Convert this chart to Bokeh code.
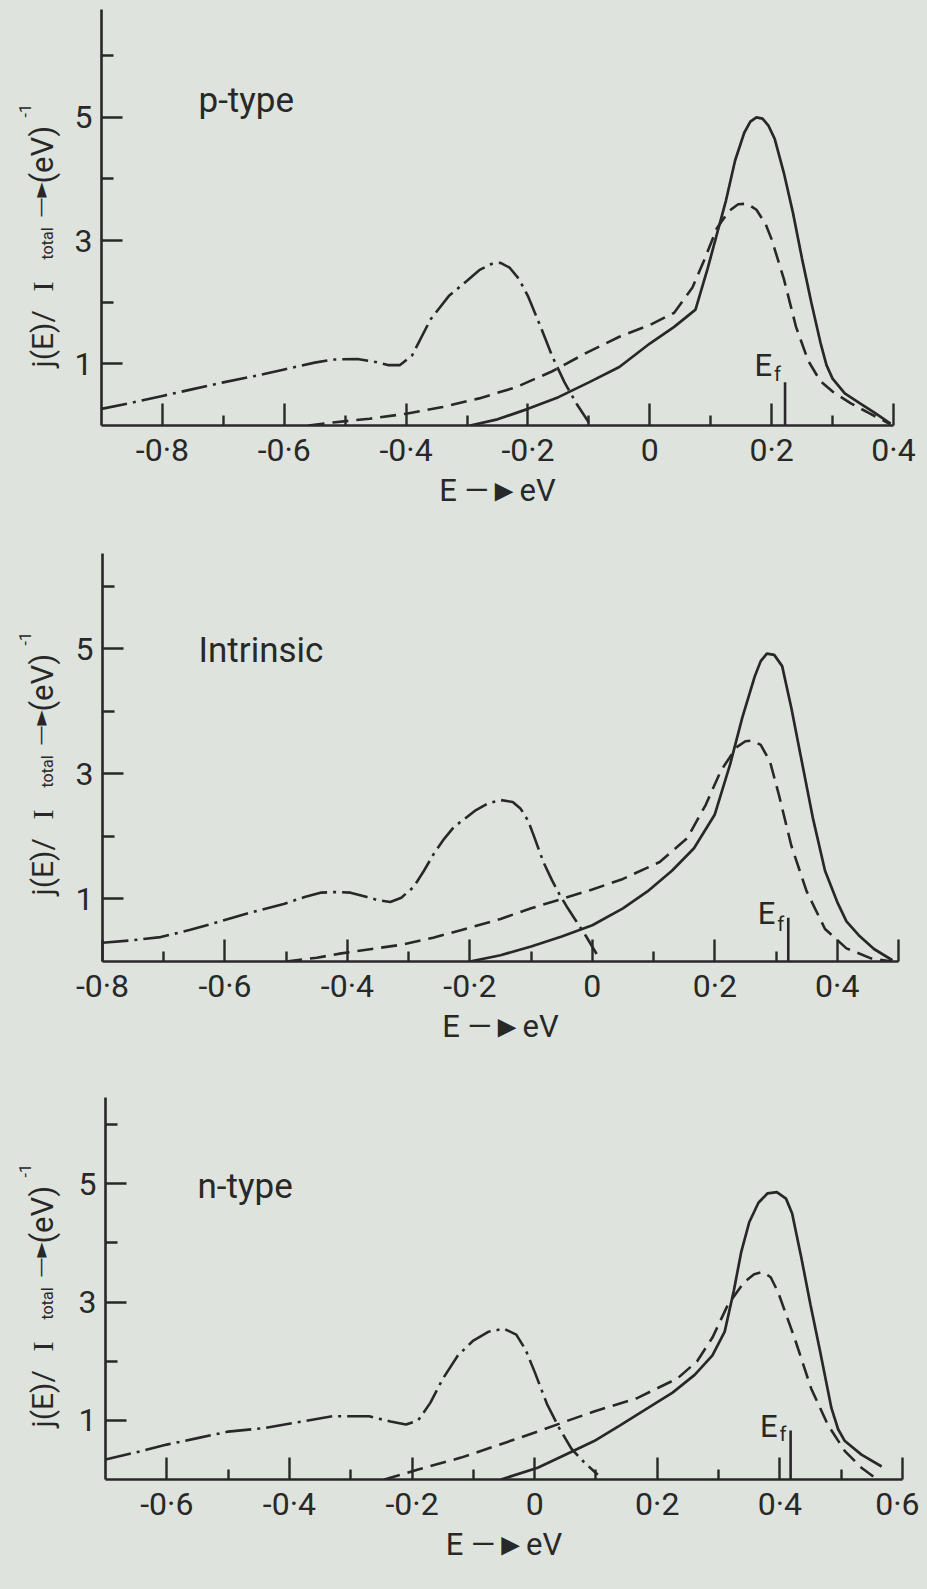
import re
from bokeh.plotting import figure
from bokeh.models import Range1d, FixedTicker, Label
from bokeh.layouts import column, row
from bokeh.embed import file_html
from bokeh.resources import INLINE

BG = "#dee4dd"
INK = "#282828"
FONT = "Roboto"

# ---------------- data: p-type ----------------
P_NAME = "p-type"
P_SOLID_E = [-0.295, -0.25, -0.2, -0.15, -0.10, -0.05, 0.0, 0.04, 0.075, 0.095, 0.11, 0.125, 0.14,
             0.155, 0.165, 0.175, 0.185, 0.195, 0.205, 0.22, 0.235, 0.25, 0.265, 0.28, 0.29,
             0.30, 0.32, 0.345, 0.37, 0.395]
P_SOLID_J = [0.0, 0.1, 0.27, 0.46, 0.7, 0.95, 1.33, 1.6, 1.88, 2.55, 3.1, 3.65, 4.3,
             4.75, 4.93, 5.0, 4.98, 4.86, 4.65, 4.1, 3.45, 2.7, 2.0, 1.35, 0.98,
             0.76, 0.52, 0.36, 0.2, 0.03]
P_DASH_E = [-0.56, -0.52, -0.46, -0.40, -0.34, -0.28, -0.22, -0.16, -0.10, -0.05, 0.0, 0.04,
            0.07, 0.09, 0.11, 0.13, 0.145, 0.16, 0.175, 0.19, 0.20, 0.22, 0.24, 0.26, 0.28,
            0.30, 0.33, 0.36, 0.395]
P_DASH_J = [0.0, 0.05, 0.11, 0.19, 0.30, 0.44, 0.62, 0.88, 1.20, 1.44, 1.63, 1.83,
            2.24, 2.7, 3.2, 3.48, 3.59, 3.6, 3.5, 3.27, 3.02, 2.38, 1.6, 1.05, 0.72,
            0.55, 0.36, 0.2, 0.02]
P_DOT_E = [-0.9, -0.85, -0.8, -0.75, -0.7, -0.65, -0.6, -0.55, -0.52, -0.48, -0.45, -0.43,
           -0.41, -0.39, -0.36, -0.33, -0.30, -0.28, -0.26, -0.245, -0.23, -0.215, -0.2,
           -0.18, -0.16, -0.14, -0.12, -0.10]
P_DOT_J = [0.27, 0.37, 0.48, 0.59, 0.70, 0.80, 0.91, 1.02, 1.07, 1.08, 1.03, 0.98,
           0.98, 1.14, 1.72, 2.1, 2.35, 2.52, 2.62, 2.64, 2.56, 2.38, 2.1,
           1.62, 1.12, 0.7, 0.35, 0.05]
P_XTICKS = [-0.8, -0.6, -0.4, -0.2, 0.0, 0.2, 0.4]
P_XLABELS = ["-0·8", "-0·6", "-0·4", "-0·2", "0", "0·2", "0·4"]
P_XMINOR = [-0.7, -0.5, -0.3, -0.1, 0.1, 0.3]
P_EF = 0.222

# ---------------- data: intrinsic ----------------
I_NAME = "Intrinsic"
I_SOLID_E = [-0.2, -0.15, -0.1, -0.05, 0.0, 0.05, 0.09, 0.13, 0.166, 0.2, 0.225, 0.245, 0.265,
             0.275, 0.285, 0.297, 0.31, 0.325, 0.34, 0.36, 0.38, 0.40, 0.415, 0.435, 0.46, 0.49]
I_SOLID_J = [0.0, 0.1, 0.24, 0.4, 0.58, 0.85, 1.12, 1.45, 1.81, 2.35, 3.15, 3.9, 4.55,
             4.8, 4.92, 4.9, 4.72, 4.05, 3.3, 2.3, 1.45, 0.95, 0.64, 0.42, 0.2, 0.02]
I_DASH_E = [-0.50, -0.45, -0.41, -0.36, -0.31, -0.26, -0.215, -0.15, -0.10, -0.05, 0.0, 0.05,
            0.11, 0.155, 0.185, 0.21, 0.235, 0.25, 0.262, 0.275, 0.29, 0.305, 0.325, 0.35,
            0.38, 0.415, 0.455, 0.49]
I_DASH_J = [0.0, 0.06, 0.13, 0.2, 0.27, 0.38, 0.5, 0.68, 0.85, 1.0, 1.15, 1.32,
            1.59, 1.97, 2.5, 3.05, 3.42, 3.52, 3.53, 3.46, 3.2, 2.65, 1.85, 1.12,
            0.52, 0.21, 0.05, 0.0]
I_DOT_E = [-0.8, -0.75, -0.705, -0.655, -0.605, -0.555, -0.504, -0.47, -0.444, -0.42, -0.395,
           -0.368, -0.35, -0.33, -0.312, -0.292, -0.275, -0.259, -0.242, -0.226, -0.21, -0.19,
           -0.17, -0.15, -0.13, -0.117, -0.105, -0.096, -0.08, -0.066, -0.053, -0.04, -0.026,
           -0.01, 0.007]
I_DOT_J = [0.3, 0.34, 0.39, 0.51, 0.65, 0.79, 0.92, 1.03, 1.1, 1.11, 1.1,
           1.03, 0.98, 0.95, 1.02, 1.19, 1.45, 1.72, 1.96, 2.15, 2.27, 2.42,
           2.53, 2.58, 2.55, 2.44, 2.25, 2.02, 1.59, 1.3, 1.06, 0.85, 0.64,
           0.4, 0.12]
I_XTICKS = [-0.8, -0.6, -0.4, -0.2, 0.0, 0.2, 0.4, 0.5]
I_XLABELS = ["-0·8", "-0·6", "-0·4", "-0·2", "0", "0·2", "0·4", ""]
I_XMINOR = [-0.7, -0.5, -0.3, -0.1, 0.1, 0.3]
I_EF = 0.320

# ---------------- data: n-type ----------------
N_NAME = "n-type"
N_SOLID_E = [-0.055, 0.005, 0.05, 0.097, 0.14, 0.185, 0.225, 0.261, 0.29, 0.31, 0.325, 0.337,
             0.35, 0.365, 0.38, 0.395, 0.41, 0.42, 0.435, 0.45, 0.465, 0.484, 0.495, 0.506,
             0.533, 0.566]
N_SOLID_J = [0.0, 0.2, 0.42, 0.65, 0.92, 1.21, 1.47, 1.77, 2.1, 2.5, 3.2, 3.85,
             4.35, 4.68, 4.84, 4.86, 4.75, 4.5, 3.75, 2.95, 2.2, 1.21, 0.85, 0.65,
             0.42, 0.22]
N_DASH_E = [-0.245, -0.19, -0.12, -0.06, 0.005, 0.05, 0.097, 0.168, 0.233, 0.265, 0.29, 0.315,
            0.342, 0.358, 0.372, 0.385, 0.397, 0.424, 0.451, 0.478, 0.506, 0.533, 0.555]
N_DASH_J = [0.0, 0.17, 0.37, 0.58, 0.81, 0.98, 1.15, 1.38, 1.71, 2.0, 2.4, 2.95,
            3.34, 3.47, 3.51, 3.42, 3.17, 2.39, 1.54, 0.93, 0.48, 0.2, 0.03]
N_DOT_E = [-0.7, -0.65, -0.6, -0.55, -0.5, -0.44, -0.38, -0.33, -0.27, -0.235, -0.21, -0.19,
           -0.17, -0.15, -0.125, -0.10, -0.075, -0.05, -0.03, -0.015, 0.0, 0.02, 0.04, 0.06,
           0.08, 0.103]
N_DOT_J = [0.34, 0.46, 0.59, 0.7, 0.81, 0.87, 0.98, 1.07, 1.07, 0.98, 0.93, 1.0,
           1.3, 1.7, 2.1, 2.35, 2.5, 2.55, 2.45, 2.2, 1.82, 1.28, 0.87, 0.52,
           0.3, 0.08]
N_XTICKS = [-0.6, -0.4, -0.2, 0.0, 0.2, 0.4, 0.6]
N_XLABELS = ["-0·6", "-0·4", "-0·2", "0", "0·2", "0·4", "0·6"]
N_XMINOR = [-0.5, -0.3, -0.1, 0.1, 0.3, 0.5]
N_EF = 0.4175

Y_TICKS = [1, 3, 5]
Y_MINOR = [2, 4, 6]
X_TITLE = "E —►eV"

TITLE_W = 64
MAIN_W = 919 - TITLE_W

# layout settings per panel (pixel sizes, not data)
LAYOUT = [
    dict(x=(-0.9, 0.4), ytop=6.75, h=525, l=37, r=26, t=9, b=100,
         ys=58, name_xy=(97, 305), ef=(0.98, 0.84, 0.70)),
    dict(x=(-0.8, 0.5), ytop=6.52, h=536, l=38, r=21, t=28, b=100,
         ys=66, name_xy=(96, 291), ef=(0.76, 0.60, 0.70)),
    dict(x=(-0.7, 0.6), ytop=6.46, h=518, l=41, r=17, t=36, b=100,
         ys=52, name_xy=(92, 273), ef=(0.89, 0.77, 0.83)),
]

PANELS = [
    (P_NAME, P_SOLID_E, P_SOLID_J, P_DASH_E, P_DASH_J, P_DOT_E, P_DOT_J,
     P_XTICKS, P_XLABELS, P_XMINOR, P_EF),
    (I_NAME, I_SOLID_E, I_SOLID_J, I_DASH_E, I_DASH_J, I_DOT_E, I_DOT_J,
     I_XTICKS, I_XLABELS, I_XMINOR, I_EF),
    (N_NAME, N_SOLID_E, N_SOLID_J, N_DASH_E, N_DASH_J, N_DOT_E, N_DOT_J,
     N_XTICKS, N_XLABELS, N_XMINOR, N_EF),
]

# y title pieces: text, offset along axis, font, size, baseline x (in title strip)
YT_PIECES = [
    ("j(E)/", 0, FONT, "30px", 42),
    ("I", 76, "Liberation Serif", "30px", 42),
    ("total", 108, FONT, "16px", 47),
    ("—►", 150, "DejaVu Sans", "20px", 39),
    ("(eV)", 184, FONT, "31px", 42),
    ("-1", 250, FONT, "16px", 24),
]


def make_title(lay):
    t = figure(width=TITLE_W, height=lay["h"], x_range=Range1d(0, 1), y_range=Range1d(0, 1),
               output_backend="svg", toolbar_location=None,
               x_axis_location=None, y_axis_location=None,
               min_border_left=0, min_border_right=0, min_border_top=lay["t"],
               min_border_bottom=lay["b"],
               background_fill_color=None, border_fill_color=BG, outline_line_color=None)
    t.grid.visible = False
    for txt, off, fnt, fs, bx in YT_PIECES:
        t.add_layout(Label(x=bx, y=lay["ys"] + off, x_units="screen", y_units="screen",
                           text=txt, angle=1.5707963, text_align="left",
                           text_baseline="alphabetic",
                           text_font=fnt, text_font_size=fs, text_color=INK))
    return t


def make_panel(data, lay):
    (name, se, sj, de, dj, te, tj, xt, xl, xm, ef) = data
    p = figure(width=MAIN_W, height=lay["h"],
               x_range=Range1d(*lay["x"]), y_range=Range1d(0, lay["ytop"]),
               output_backend="svg", toolbar_location=None,
               min_border_left=lay["l"], min_border_right=lay["r"],
               min_border_top=lay["t"], min_border_bottom=lay["b"],
               background_fill_color=None, border_fill_color=BG,
               outline_line_color=None)
    p.grid.visible = False

    xa = p.xaxis[0]
    xa.ticker = FixedTicker(ticks=xt, minor_ticks=xm)
    xa.major_label_overrides = dict(zip(xt, xl))
    xa.major_tick_in = 22
    xa.major_tick_out = 0
    xa.minor_tick_in = 10
    xa.minor_tick_out = 0
    xa.major_label_standoff = 5
    xa.axis_label = X_TITLE
    xa.axis_label_standoff = 0
    xa.axis_label_text_font = FONT
    xa.axis_label_text_font_size = "31px"
    xa.axis_label_text_font_style = "normal"
    xa.axis_label_text_color = INK

    ya = p.yaxis[0]
    ya.ticker = FixedTicker(ticks=Y_TICKS, minor_ticks=Y_MINOR)
    ya.major_tick_in = 21
    ya.major_tick_out = 0
    ya.minor_tick_in = 12
    ya.minor_tick_out = 0
    ya.major_label_standoff = 9

    for ax in (xa, ya):
        ax.axis_line_color = INK
        ax.axis_line_width = 2.6
        ax.major_tick_line_color = INK
        ax.major_tick_line_width = 2.4
        ax.minor_tick_line_color = INK
        ax.minor_tick_line_width = 2.4
        ax.major_label_text_font = FONT
        ax.major_label_text_font_size = "32px"
        ax.major_label_text_color = INK

    p.line(te, tj, line_color=INK, line_width=2.6, line_dash="26 6 3 6")
    p.line(de, dj, line_color=INK, line_width=2.6, line_dash="16 8")
    p.line(se, sj, line_color=INK, line_width=2.7)

    e_base, f_base, top = lay["ef"]
    p.segment(x0=[ef], y0=[0], x1=[ef], y1=[top], line_color=INK, line_width=2.6)
    p.add_layout(Label(x=ef, y=e_base, text="E", text_align="right", x_offset=-13,
                       text_baseline="alphabetic",
                       text_font=FONT, text_font_size="31px", text_color=INK))
    p.add_layout(Label(x=ef, y=f_base, text="f", text_align="left", x_offset=-11,
                       text_baseline="alphabetic",
                       text_font=FONT, text_font_size="20px", text_color=INK))

    nx, ny = lay["name_xy"]
    p.add_layout(Label(x=nx, y=ny, x_units="screen", y_units="screen", text=name,
                       text_font=FONT, text_font_size="35px", text_color=INK))
    return p


rows = [row(make_title(l), make_panel(d, l), spacing=0) for d, l in zip(PANELS, LAYOUT)]
page = column(*rows, spacing=0)

html = file_html(page, INLINE, title="j(E) spectra")
css = "<style>html, body { background-color: %s !important; }</style></head>" % BG
html = html.replace("</head>", css, 1)
html = re.sub(r"<body([^>]*)>", r'<body\1 style="background-color:%s;">' % BG, html, count=1)
open("out.html", "w").write(html)
